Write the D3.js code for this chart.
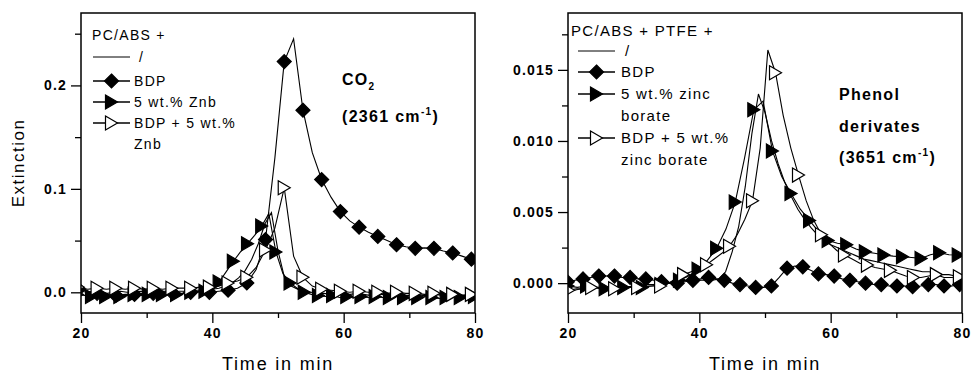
<!DOCTYPE html>
<html>
<head>
<meta charset="utf-8">
<script src="https://cdn.jsdelivr.net/npm/d3@7"></script>
<style>
  body { margin: 0; background: #fff; }
  svg { display: block; font-family: "Liberation Sans", Arial, sans-serif; }
  .tick text { font-weight: bold; font-size: 14px; letter-spacing: 1.2px; }
  .tick line { stroke: #000; stroke-width: 1.3; }
</style>
</head>
<body>
<svg id="chart"></svg>
<script>
// ---- data (time in min, extinction) ----
const xMajor = [20, 40, 60, 80];
const xMinor = [30, 50, 70];

// left panel: CO2 (2361 cm-1)
const leftYMajor = [0, 0.1, 0.2];
const leftYMinor = [0.05, 0.15, 0.25];
// sampling [start, step] per series
const leftPlainSampling = [20, 1];
const leftBdpSampling = [19.6, 1.425];
const leftZnbSampling = [19.44, 1.08];
const leftBdpZnbSampling = [19.6, 1.425];

const leftPlain = [0.001, 0.000, 0.001, 0.000, -0.001, 0.000, 0.001, 0.000, 0.000, 0.001,
  0.000, 0.000, 0.001, 0.001, 0.000, 0.001, 0.001, 0.002, 0.002, 0.002,
  0.003, 0.004, 0.006, 0.009, 0.014, 0.021, 0.032, 0.047, 0.066, 0.077,
  0.040, 0.014, 0.006, 0.003, 0.001, 0.000,
  -0.001, -0.001, -0.002, -0.001, -0.002, -0.002, -0.001, -0.002, -0.003, -0.002,
  -0.002, -0.003, -0.002, -0.003, -0.003, -0.002, -0.003, -0.003, -0.002, -0.003,
  -0.003, -0.004, -0.003, -0.003, -0.004];
const leftBdp = [0.003, 0.001, -0.001, -0.002, -0.003, -0.002, -0.002, -0.001, -0.001, 0.000,
  0.000, -0.001, 0.000, 0.001, 0.000, 0.001, 0.002, 0.004, 0.009, 0.022,
  0.051, 0.130, 0.223, 0.245, 0.176, 0.135, 0.109, 0.092, 0.078, 0.069,
  0.063, 0.058, 0.054, 0.050, 0.046, 0.044, 0.0425, 0.043, 0.0425, 0.040,
  0.038, 0.035, 0.032, 0.030];
const leftZnb = [-0.002, -0.003, -0.004, -0.003, -0.004, -0.003, -0.004, -0.003, -0.002, -0.003,
  -0.002, -0.003, -0.002, -0.001, -0.002, -0.001, 0.000, 0.000,
  0.001, 0.003, 0.010, 0.020, 0.030, 0.039, 0.047, 0.055, 0.064, 0.076,
  0.039, 0.018, 0.009, 0.004, 0.000, -0.002, -0.003,
  -0.004, -0.003, -0.005, -0.004, -0.005, -0.004, -0.005, -0.004, -0.005, -0.005,
  -0.004, -0.005, -0.006, -0.005, -0.004, -0.005, -0.006, -0.005, -0.004, -0.005,
  -0.005, -0.004, -0.005];
const leftBdpZnb = [0.005, 0.003, 0.004, 0.003, 0.004, 0.003, 0.004, 0.003, 0.004, 0.003,
  0.004, 0.004, 0.004, 0.005, 0.005, 0.006, 0.009, 0.011, 0.0145, 0.024,
  0.041, 0.062, 0.101, 0.035, 0.0145, 0.006, 0.003, 0.002, 0.001, 0.000,
  0.001, 0.000, 0.000, -0.001, 0.000, -0.001, -0.001, -0.002, -0.001, -0.002,
  -0.002, -0.003, -0.002, -0.003];

// right panel: phenol derivates (3651 cm-1)
const rightYMajor = [0, 0.005, 0.010, 0.015];
const rightYMinor = [0.0025, 0.0075, 0.0125, 0.0175];
const rightPlainSampling = [20, 1];
const rightBdpSampling = [19.9, 1.195];
const rightZnbSampling = [20, 1.415];
const rightBdpZnbSampling = [20.1, 1.1667];

const rightPlain = [-0.0005, -0.0005, -0.0004, -0.0004, -0.0003, -0.0004, -0.0003, -0.0003, -0.0002, -0.0003,
  -0.0002, -0.0002, -0.0001, -0.0001, 0.0000, 0.0000, 0.0001, 0.0001, 0.0002, 0.0002,
  0.0002, 0.0002, 0.0002, 0.0003, 0.0008, 0.0022, 0.0040, 0.0068, 0.0105, 0.0133,
  0.0120, 0.0100, 0.0084, 0.0071, 0.0061, 0.0052, 0.0045, 0.0039, 0.0034, 0.0030,
  0.0027, 0.0025, 0.0023, 0.0021, 0.0019, 0.0017, 0.0016, 0.0015, 0.0014, 0.0013,
  0.0012, 0.0011, 0.0010, 0.0009, 0.0008, 0.0008, 0.0007, 0.0006, 0.0006, 0.0005,
  0.0005];
const rightBdp = [0.0001, 0.0002, 0.0003, 0.0004, 0.0005, 0.0005, 0.0005, 0.0004, 0.0004, 0.0003,
  0.0003, 0.0002, 0.0001, 0.0000, 0.0000, 0.0001, 0.0002, 0.0003, 0.0004, 0.0003,
  0.0002, 0.0000, -0.0001, -0.0002, -0.0003, -0.0003, -0.0002, 0.0004, 0.00105, 0.0012,
  0.00115, 0.0009, 0.00065, 0.0006, 0.0005, 0.0003, 0.0002, 0.0001, 0.0000, -0.0001,
  -0.0001, -0.0002, -0.0002, -0.0002, -0.00025, -0.0002, -0.0001, -0.0001, -0.0002, -0.0002,
  -0.0001, -0.0001];
const rightZnb = [-0.0002, -0.0003, -0.0002, -0.0003, -0.0004, -0.0003, -0.0003, -0.0002, -0.0003, -0.0002,
  -0.0001, 0.0000, 0.0002, 0.0005, 0.00097, 0.0016, 0.00245, 0.0038, 0.0057, 0.0088,
  0.0122, 0.0128, 0.0093, 0.0075, 0.0063, 0.0052, 0.0044, 0.0036, 0.0030, 0.0028,
  0.0027, 0.0024, 0.0022, 0.0021, 0.00198, 0.0019, 0.00186, 0.0018, 0.00174, 0.0020,
  0.00214, 0.0020, 0.00198, 0.0019];
const rightBdpZnb = [-0.0005, -0.0004, -0.0004, -0.0003, -0.0003, -0.0004, -0.0004, -0.0003, -0.0003, -0.0003,
  -0.0002, -0.0002, -0.0002, 0.0000, 0.0003, 0.0006, 0.0008, 0.0010, 0.0013, 0.0017,
  0.0021, 0.0026, 0.0034, 0.0045, 0.0058, 0.0095, 0.0164, 0.0148, 0.0118, 0.0095,
  0.0076, 0.0058, 0.0044, 0.0034, 0.0028, 0.0023, 0.00198, 0.0017, 0.0014, 0.00127,
  0.0011, 0.0010, 0.0009, 0.0007, 0.0005, 0.0004, 0.0004, 0.0005, 0.0006, 0.0004,
  0.0004, 0.00045, 0.0004];

// ---- drawing ----
const width = 973, height = 378;
const plotTop = 13, plotBottom = 313;
const svg = d3.select("#chart").attr("width", width).attr("height", height);

const diamond = r => `M0,${-r}L${r},0L0,${r}L${-r},0Z`;
const triRight = (w, h) => `M${-w / 2},${-h / 2}L${w / 2},0L${-w / 2},${h / 2}Z`;
const markers = {
  diamond: { d: diamond(7), fill: "#000" },
  triFilled: { d: triRight(12, 14), fill: "#000" },
  triOpen: { d: triRight(12, 14), fill: "#fff" }
};

function toPoints(sampling, values) {
  return values.map((v, i) => [sampling[0] + i * sampling[1], v]);
}

function drawPanel(cfg) {
  const x = d3.scaleLinear().domain([20, 80]).range([cfg.left, cfg.right]);
  const y = d3.scaleLinear().domain(cfg.yDomain).range([plotBottom, plotTop]);
  const g = svg.append("g");

  g.append("clipPath").attr("id", cfg.id + "-clip")
    .append("rect")
    .attr("x", cfg.left).attr("y", plotTop)
    .attr("width", cfg.right - cfg.left).attr("height", plotBottom - plotTop);

  // axes with major / minor ticks, outward
  g.append("g").attr("transform", `translate(0,${plotBottom})`)
    .call(d3.axisBottom(x).tickValues(xMajor).tickSize(10).tickPadding(5).tickFormat(d3.format("d")))
    .call(a => a.select(".domain").remove());
  g.append("g").attr("transform", `translate(0,${plotBottom})`)
    .call(d3.axisBottom(x).tickValues(xMinor).tickSize(5).tickFormat(""))
    .call(a => a.select(".domain").remove());
  g.append("g").attr("transform", `translate(${cfg.left},0)`)
    .call(d3.axisLeft(y).tickValues(cfg.yMajor).tickSize(10).tickPadding(4).tickFormat(d3.format(cfg.yFormat)))
    .call(a => a.select(".domain").remove());
  g.append("g").attr("transform", `translate(${cfg.left},0)`)
    .call(d3.axisLeft(y).tickValues(cfg.yMinor).tickSize(6).tickFormat(""))
    .call(a => a.select(".domain").remove());
  g.selectAll(".tick text").attr("fill", "#000");

  const plot = g.append("g").attr("clip-path", `url(#${cfg.id}-clip)`);
  const line = d3.line().x(d => x(d[0])).y(d => y(d[1]));

  cfg.series.forEach(s => {
    plot.append("path")
      .datum(toPoints(s.sampling, s.values))
      .attr("d", line)
      .attr("fill", "none")
      .attr("stroke", "#000")
      .attr("stroke-width", 1.1);
  });
  cfg.series.filter(s => s.marker !== "none").forEach(s => {
    const m = markers[s.marker];
    plot.selectAll(null)
      .data(toPoints(s.sampling, s.values).filter((d, i) => i % s.every === 0))
      .join("path")
      .attr("d", m.d)
      .attr("transform", d => `translate(${x(d[0])},${y(d[1])})`)
      .attr("fill", m.fill)
      .attr("stroke", "#000")
      .attr("stroke-width", 1.2);
  });

  // frame
  g.append("rect")
    .attr("x", cfg.left).attr("y", plotTop)
    .attr("width", cfg.right - cfg.left).attr("height", plotBottom - plotTop)
    .attr("fill", "none").attr("stroke", "#000").attr("stroke-width", 1.5);

  // x title
  g.append("text")
    .attr("x", (cfg.left + cfg.right) / 2).attr("y", 370)
    .attr("text-anchor", "middle")
    .style("font-size", "18px").style("letter-spacing", "1.8px")
    .text("Time in min");

  // legend
  const lg = g.append("g").style("font-size", cfg.legendFont + "px").style("letter-spacing", "1.3px");
  lg.append("text").attr("x", cfg.legend.x0).attr("y", cfg.legend.rows[0] + 5).text(cfg.legend.title);
  cfg.legend.entries.forEach((e, i) => {
    const ry = cfg.legend.rows[i + 1];
    if (e.marker !== null) {
      lg.append("line")
        .attr("x1", cfg.legend.x1).attr("x2", cfg.legend.x2)
        .attr("y1", ry).attr("y2", ry)
        .attr("stroke", "#000").attr("stroke-width", e.marker === "none" ? 1 : 1.5);
      if (e.marker !== "none") {
        const m = markers[e.marker];
        lg.append("path").attr("d", m.d)
          .attr("transform", `translate(${(cfg.legend.x1 + cfg.legend.x2) / 2},${ry})`)
          .attr("fill", m.fill).attr("stroke", "#000").attr("stroke-width", 1.2);
      }
    }
    lg.append("text").attr("x", e.marker === "none" ? cfg.legend.slashX : cfg.legend.tx)
      .attr("y", ry + 5).text(e.label);
  });

  // annotation
  const an = g.append("g").style("font-size", "16px").style("font-weight", "bold").style("letter-spacing", "1.3px");
  cfg.note.forEach((n, i) => {
    const t = an.append("text").attr("x", cfg.noteX).attr("y", cfg.noteY[i]);
    n.forEach(part => {
      const sp = t.append("tspan").text(part.t);
      if (part.sub) sp.attr("dy", 5).style("font-size", "10px");
      if (part.sup) sp.attr("dy", -7).style("font-size", "10px");
      if (part.back) sp.attr("dy", part.back);
    });
  });
}

drawPanel({
  id: "left", left: 81, right: 475, yDomain: [-0.02, 0.27],
  yMajor: leftYMajor, yMinor: leftYMinor, yFormat: ".1f",
  series: [
    { sampling: leftPlainSampling, values: leftPlain, marker: "none" },
    { sampling: leftBdpSampling, values: leftBdp, marker: "diamond", every: 2 },
    { sampling: leftZnbSampling, values: leftZnb, marker: "triFilled", every: 2 },
    { sampling: leftBdpZnbSampling, values: leftBdpZnb, marker: "triOpen", every: 2 }
  ],
  legendFont: 14,
  legend: {
    x0: 92, x1: 93, x2: 130, tx: 134, slashX: 139,
    rows: [35, 57, 81, 102, 123, 144],
    title: "PC/ABS +",
    entries: [
      { marker: "none", label: "/" },
      { marker: "diamond", label: "BDP" },
      { marker: "triFilled", label: "5 wt.% Znb" },
      { marker: "triOpen", label: "BDP + 5 wt.%" },
      { marker: null, label: "Znb" }
    ]
  },
  noteX: 342, noteY: [85, 122],
  note: [
    [{ t: "CO" }, { t: "2", sub: true }],
    [{ t: "(2361 cm" }, { t: "-1", sup: true }, { t: ")", back: 7 }]
  ]
});

drawPanel({
  id: "right", left: 568, right: 962, yDomain: [-0.0021, 0.019],
  yMajor: rightYMajor, yMinor: rightYMinor, yFormat: ".3f",
  series: [
    { sampling: rightPlainSampling, values: rightPlain, marker: "none" },
    { sampling: rightBdpSampling, values: rightBdp, marker: "diamond", every: 2 },
    { sampling: rightZnbSampling, values: rightZnb, marker: "triFilled", every: 2 },
    { sampling: rightBdpZnbSampling, values: rightBdpZnb, marker: "triOpen", every: 3 }
  ],
  legendFont: 15,
  legend: {
    x0: 571, x1: 578, x2: 615, tx: 621, slashX: 625,
    rows: [31, 51, 72, 94, 116, 138, 160],
    title: "PC/ABS + PTFE +",
    entries: [
      { marker: "none", label: "/" },
      { marker: "diamond", label: "BDP" },
      { marker: "triFilled", label: "5 wt.% zinc" },
      { marker: null, label: "borate" },
      { marker: "triOpen", label: "BDP + 5 wt.%" },
      { marker: null, label: "zinc borate" }
    ]
  },
  noteX: 839, noteY: [100, 132, 163],
  note: [
    [{ t: "Phenol" }],
    [{ t: "derivates" }],
    [{ t: "(3651 cm" }, { t: "-1", sup: true }, { t: ")", back: 7 }]
  ]
});

// y title
svg.append("text")
  .attr("transform", "translate(24,163) rotate(-90)")
  .attr("text-anchor", "middle")
  .style("font-size", "17px").style("letter-spacing", "1.5px")
  .text("Extinction");
</script>
</body>
</html>
